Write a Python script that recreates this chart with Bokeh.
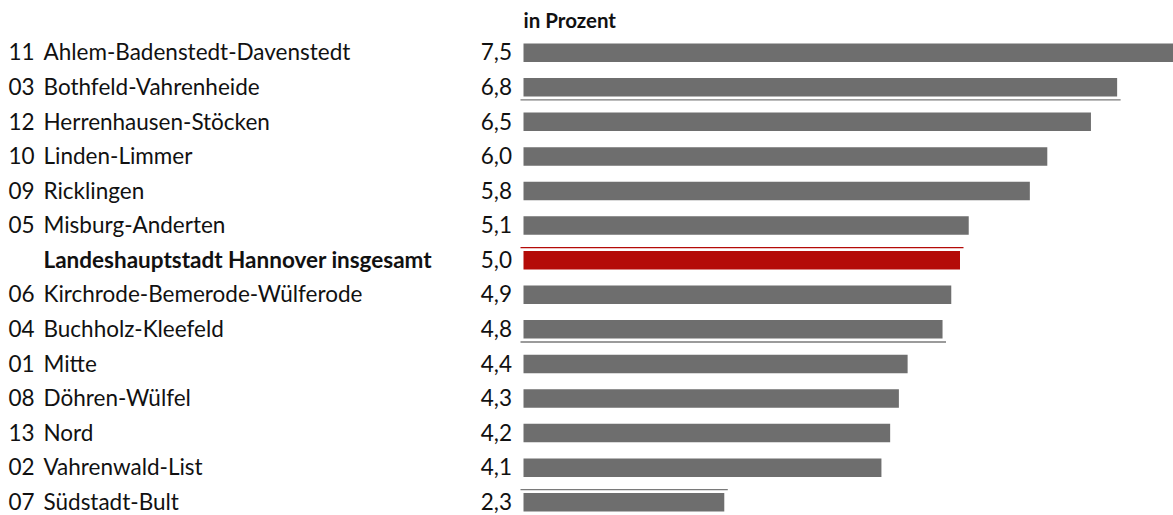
from bokeh.plotting import figure
from bokeh.models import Range1d, ColumnDataSource
from bokeh.core.properties import value
from bokeh.embed import file_html
from bokeh.resources import INLINE

# ---- data ----
numbers = ["11", "03", "12", "10", "09", "05", "", "06", "04", "01", "08", "13", "02", "07"]
districts = ["Ahlem-Badenstedt-Davenstedt", "Bothfeld-Vahrenheide", "Herrenhausen-Stöcken",
             "Linden-Limmer", "Ricklingen", "Misburg-Anderten",
             "Landeshauptstadt Hannover insgesamt",
             "Kirchrode-Bemerode-Wülferode", "Buchholz-Kleefeld", "Mitte",
             "Döhren-Wülfel", "Nord", "Vahrenwald-List", "Südstadt-Bult"]
values = [7.5, 6.8, 6.5, 6.0, 5.8, 5.1, 5.0, 4.9, 4.8, 4.4, 4.3, 4.2, 4.1, 2.3]
total_label = "Landeshauptstadt Hannover insgesamt"
unit_title = "in Prozent"
# thin separator rules seen in the source (row, side: +1 below bar, -1 above bar)
rule_rows = ["Bothfeld-Vahrenheide", "Landeshauptstadt Hannover insgesamt",
             "Buchholz-Kleefeld", "Südstadt-Bult"]
rule_side = [1, -1, 1, -1]

# ---- style ----
GRAY = "#6E6E6E"
RED = "#B40B08"
RULE_GRAY = "#7A7A7A"
TEXT = "#111111"
FONT = "Lato"
FS = "22.5px"
PX = 1 / 87.3          # data units per pixel on x
ROW_PX = 34.58         # pixels per row on y
BAR0 = 523             # screen x of bar origin
ROW0 = 52.2            # screen y of first row centre
TY = -0.8              # text vertical nudge (px)

W, H = 1173, 515
x_start = -BAR0 * PX
x_end = (W - BAR0) * PX
y_top = (0 - ROW0) / ROW_PX
y_bot = (H - ROW0) / ROW_PX

p = figure(width=W, height=H, output_backend="svg", toolbar_location=None,
           x_range=Range1d(x_start, x_end), y_range=Range1d(y_bot, y_top),
           min_border=0, outline_line_color=None)
p.axis.visible = False
p.grid.visible = False
p.background_fill_color = "white"
p.border_fill_color = "white"

rows = list(range(len(districts)))
colors = [RED if d == total_label else GRAY for d in districts]
src = ColumnDataSource(dict(y=rows, v=values, c=colors, num=numbers,
                            vlab=[f"{v:.1f}".replace(".", ",") for v in values]))

p.hbar(y="y", left=0, right="v", height=0.535, fill_color="c", line_color=None, source=src)

# separator rules
rx0, rx1, ry, rc = [], [], [], []
for name, side in zip(rule_rows, rule_side):
    i = districts.index(name)
    rx0.append(-3 * PX)
    rx1.append(values[i] + 3.5 * PX)
    ry.append(i + side * 12.6 / ROW_PX)
    rc.append(RED if name == total_label else RULE_GRAY)
p.segment(x0=rx0, x1=rx1, y0=ry, y1=ry, line_color=rc, line_width=1.4)

# labels
p.text(x=x_start + 8 * PX, y="y", text="num", source=src, text_font=value(FONT),
       text_font_size=FS, text_color=TEXT, text_baseline="middle",
       text_align="left", y_offset=TY)
norm_idx = [i for i, d in enumerate(districts) if d != total_label]
bold_idx = [i for i, d in enumerate(districts) if d == total_label]
p.text(x=[x_start + 43 * PX] * len(norm_idx), y=norm_idx, text=[districts[i] for i in norm_idx],
       text_font=value(FONT), text_font_size=FS, text_color=TEXT,
       text_baseline="middle", text_align="left", y_offset=TY)
p.text(x=[x_start + 43 * PX] * len(bold_idx), y=bold_idx, text=[districts[i] for i in bold_idx],
       text_font=value(FONT), text_font_size=FS, text_font_style="bold", text_color=TEXT,
       text_baseline="middle", text_align="left", y_offset=TY)
p.text(x=0, y="y", text="vlab", source=src, text_font=value(FONT), text_font_size=FS,
       text_color=TEXT, text_baseline="middle", text_align="right",
       x_offset=-11.5, y_offset=TY)
p.text(x=[0], y=[-1], text=[unit_title], text_font=value(FONT), text_font_size="20.5px",
       text_font_style="bold", text_color=TEXT, text_baseline="middle",
       text_align="left", y_offset=2)

open("out.html", "w").write(file_html(p, INLINE))
